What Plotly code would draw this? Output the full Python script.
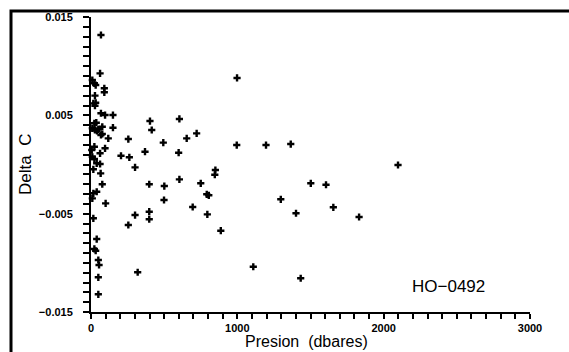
import plotly.graph_objects as go

pressure = [68, 62, 9, 23, 32, 91, 91, 27, 16, 32, 27, 68, 96, 150, 403, 604,
            23, 36, 77, 150, 9, 27, 41, 50, 415, 68, 77, 118, 255, 494, 654, 722,
            23, 5, 96, 369, 599, 62, 9, 23, 205, 262, 39, 62, 301, 16, 66,
            77, 398, 501, 16, 39, 9, 499, 100, 398, 301, 398, 16, 255,
            39, 23, 32, 50, 55, 319, 50, 50,
            996, 1196, 1365, 850, 846, 604, 750, 1502, 1606, 791, 805, 1297,
            695, 1656, 795, 1401, 887, 1109, 1433, 998, 1832, 2098]
delta_c = [0.01317, 0.00927, 0.00859, 0.00826, 0.00808, 0.00775, 0.00734, 0.00700,
           0.00622, 0.00628, 0.00598, 0.00521, 0.00503, 0.00503, 0.00442, 0.00463,
           0.00419, 0.00425, 0.00384, 0.00374, 0.00368, 0.00351, 0.00341, 0.00358,
           0.00351, 0.00300, 0.00310, 0.00266, 0.00259, 0.00222, 0.00266, 0.00317,
           0.00181, 0.00147, 0.00165, 0.00130, 0.00120, 0.00114, 0.00079, 0.00056,
           0.00089, 0.00073, 0.00012, 0.00005, -0.00029, -0.00049, -0.00090,
           -0.00201, -0.00201, -0.00219, -0.00293, -0.00277, -0.00344, -0.00361,
           -0.00395, -0.00480, -0.00514, -0.00557, -0.00547, -0.00615,
           -0.00758, -0.00859, -0.00877, -0.00971, -0.01022, -0.01096, -0.01147, -0.01320,
           0.00198, 0.00198, 0.00208, -0.00056, -0.00104, -0.00151, -0.00191, -0.00191,
           -0.00206, -0.00303, -0.00313, -0.00354, -0.00432, -0.00435, -0.00507,
           -0.00496, -0.00673, -0.01040, -0.01157, 0.00880, -0.00534, -0.00005]

x_tickvals = [0, 1000, 2000, 3000]
x_ticktext = ["0", "1000", "2000", "3000"]
y_tickvals = [0.015, 0.005, -0.005, -0.015]
y_ticktext = ["0.015", "0.005", "\u22120.005", "\u22120.015"]

fig = go.Figure()
fig.add_trace(go.Scatter(
    x=pressure, y=delta_c, mode="markers",
    marker=dict(symbol="cross", size=6, color="black", line=dict(width=0)),
    showlegend=False, cliponaxis=False,
))

tickfont = dict(family="Liberation Sans, Arial", size=11, color="black", weight="bold")
titlefont = dict(family="Liberation Sans, Arial", size=17, color="black")

fig.update_layout(
    width=569, height=352,
    margin=dict(l=91, r=39, t=17, b=40, autoexpand=False),
    paper_bgcolor="white", plot_bgcolor="white",
    xaxis=dict(
        range=[0, 3000], tickvals=x_tickvals, ticktext=x_ticktext, automargin=False,
        ticks="outside", ticklen=5, tickwidth=2, tickcolor="black",
        showline=True, linecolor="black", linewidth=2,
        showgrid=False, zeroline=False, tickfont=tickfont, ticklabelstandoff=0,
        minor=dict(dtick=100, tick0=0, ticks="outside", ticklen=5, tickwidth=2,
                   tickcolor="black", showgrid=False),
    ),
    yaxis=dict(
        range=[-0.015, 0.015], tickvals=y_tickvals, ticktext=y_ticktext, automargin=False,
        ticks="outside", ticklen=6, tickwidth=2, tickcolor="black",
        showline=True, linecolor="black", linewidth=2,
        showgrid=False, zeroline=False, tickfont=tickfont, ticklabelstandoff=8,
        minor=dict(dtick=0.001, tick0=0.015, ticks="outside", ticklen=6, tickwidth=2,
                   tickcolor="black", showgrid=False),
    ),
    annotations=[
        dict(x=(448 - 91) / 439, y=(312 - 286) / 295, xref="paper", yref="paper",
             xanchor="center", yanchor="middle", text="HO\u22120492",
             showarrow=False, font=titlefont),
        dict(x=(306 - 91) / 439, y=(312 - 351) / 295, xref="paper", yref="paper",
             xanchor="center", yanchor="bottom", text="Presion  (dbares)", borderpad=0,
             showarrow=False, font=dict(family="Liberation Sans, Arial", size=16, color="black")),
        dict(x=(25 - 91) / 439, y=(312 - 165) / 295, xref="paper", yref="paper",
             xanchor="center", yanchor="middle", text="Delta  C", textangle=-90,
             showarrow=False, font=titlefont),
    ],
    shapes=[dict(
        type="rect", xref="paper", yref="paper",
        x0=(11 - 91) / 439, x1=1.3, y0=-0.3, y1=(312 - 11) / 295,
        line=dict(color="black", width=3), fillcolor="rgba(0,0,0,0)", layer="below",
    )],
)

fig.write_html("out.html")
